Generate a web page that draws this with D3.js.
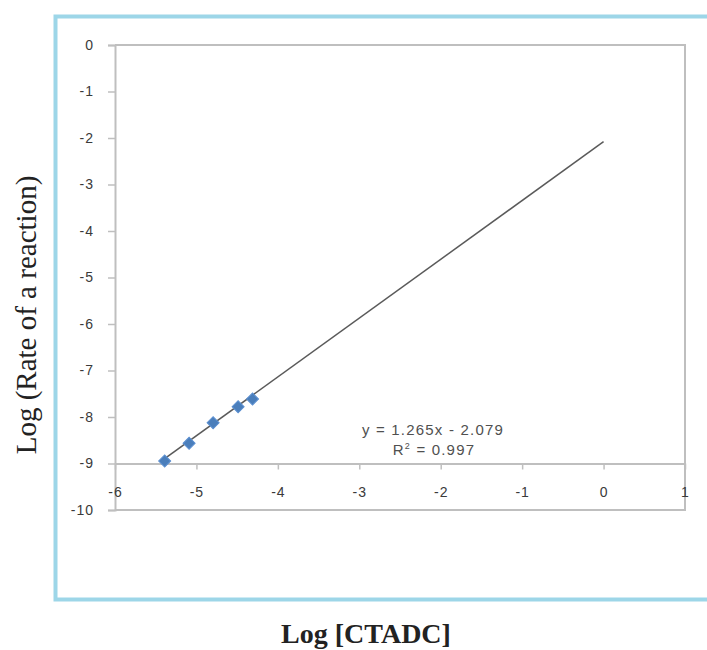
<!DOCTYPE html>
<html>
<head>
<meta charset="utf-8">
<script src="https://cdn.jsdelivr.net/npm/d3@7"></script>
<style>
  html, body { margin: 0; padding: 0; background: #fff; }
  svg { display: block; }
</style>
</head>
<body>
<svg id="chart" width="707" height="650"></svg>
<script>
// ---- data ----
const logConc = [-5.39, -5.09, -4.795, -4.488, -4.311];
const logRate = [-8.946, -8.566, -8.123, -7.778, -7.613];
const xTicks = [-6, -5, -4, -3, -2, -1, 0, 1];
const yTicks = [0, -1, -2, -3, -4, -5, -6, -7, -8, -9, -10];
const slope = 1.265;
const intercept = -2.079;
const trendEndX = 0;
const eqText = "y = 1.265x - 2.079";
const r2Value = "0.997";
const xTitle = "Log [CTADC]";
const yTitle = "Log (Rate of a reaction)";

const svg = d3.select("#chart");

// outer blue frame
svg.append("rect")
  .attr("x", 55.5).attr("y", 16.5)
  .attr("width", 700).attr("height", 583)
  .attr("fill", "none")
  .attr("stroke", "#9dd6e8")
  .attr("stroke-width", 4);

const x = d3.scaleLinear().domain([-6, 1]).range([115, 685]);
const y = d3.scaleLinear().domain([-10, 0]).range([510, 45]);

const axisColor = "#bfbfbf";
const labelColor = "#3a3a3a";
const tickFont = "'Liberation Sans', Arial, sans-serif";

// plot area border (top, right, bottom)
svg.append("path")
  .attr("d", `M${x(-6)},${y(0)}H${x(1)}V${y(-10)}H${x(-6)}`)
  .attr("fill", "none")
  .attr("stroke", axisColor)
  .attr("stroke-width", 2);

// y axis
const gy = svg.append("g")
  .attr("transform", `translate(${x(-6)},0)`)
  .call(d3.axisLeft(y).tickValues(yTicks).tickSize(7).tickPadding(14).tickFormat(d3.format("d")));
gy.select(".domain").attr("stroke", axisColor).attr("stroke-width", 2);
gy.selectAll(".tick line").attr("stroke", axisColor).attr("stroke-width", 1.5);
gy.selectAll(".tick text")
  .attr("fill", labelColor)
  .style("font-family", tickFont)
  .style("font-size", "14px")
  .style("letter-spacing", "1px")
  .text(d => d === 0 ? "0" : "-" + Math.abs(d));

// x axis crossing at y = -9
const gx = svg.append("g")
  .attr("transform", `translate(0,${y(-9)})`)
  .call(d3.axisBottom(x).tickValues(xTicks).tickSize(6).tickPadding(18).tickSizeOuter(0));
gx.select(".domain").attr("stroke", axisColor).attr("stroke-width", 2);
gx.selectAll(".tick line").attr("stroke", axisColor).attr("stroke-width", 1.5);
gx.selectAll(".tick text")
  .attr("fill", labelColor)
  .style("font-family", tickFont)
  .style("font-size", "14px")
  .style("letter-spacing", "1px")
  .text(d => d < 0 ? "-" + Math.abs(d) : String(d));

// trendline
const tx0 = d3.min(logConc);
svg.append("line")
  .attr("x1", x(tx0)).attr("y1", y(slope * tx0 + intercept))
  .attr("x2", x(trendEndX)).attr("y2", y(slope * trendEndX + intercept))
  .attr("stroke", "#5a5a5a")
  .attr("stroke-width", 1.5);

// markers
const pts = logConc.map((v, i) => [v, logRate[i]]);
svg.append("g").selectAll("path")
  .data(pts)
  .join("path")
  .attr("d", d3.symbol(d3.symbolSquare, 72))
  .attr("transform", d => `translate(${x(d[0])},${y(d[1])}) rotate(45)`)
  .attr("fill", "#4a7ebb")
  .attr("stroke", "#5b8fd0")
  .attr("stroke-width", 1);

// equation
const eq = svg.append("g")
  .style("font-family", tickFont)
  .style("font-size", "15px")
  .style("letter-spacing", "1.2px")
  .attr("fill", "#505050")
  .attr("text-anchor", "middle");
eq.append("text").attr("x", 433).attr("y", 435).text(eqText);
const r2 = eq.append("text").attr("x", 434).attr("y", 455);
r2.append("tspan").text("R");
r2.append("tspan").attr("dy", -6).style("font-size", "9px").text("2");
r2.append("tspan").attr("dy", 6).text(" = " + r2Value);

// axis titles
svg.append("text")
  .attr("x", 366).attr("y", 643)
  .attr("text-anchor", "middle")
  .style("font-family", "'Liberation Serif', 'Times New Roman', serif")
  .style("font-size", "28px")
  .style("font-weight", "bold")
  .attr("fill", "#222")
  .text(xTitle);

svg.append("text")
  .attr("transform", `translate(36,315) rotate(-90)`)
  .attr("text-anchor", "middle")
  .style("font-family", "'Liberation Serif', 'Times New Roman', serif")
  .style("font-size", "29px")
  .attr("fill", "#222")
  .text(yTitle);
</script>
</body>
</html>
